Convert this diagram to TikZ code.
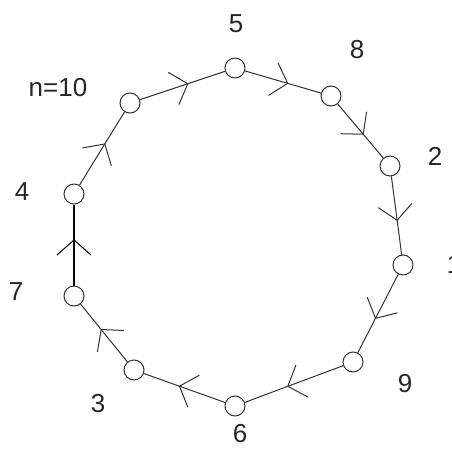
\documentclass[tikz,border=0pt]{standalone}
\usepackage{fontspec}
\setmainfont{Liberation Sans}
\usetikzlibrary{arrows.meta,decorations.markings}
\begin{document}
\begin{tikzpicture}[x=1pt,y=-1pt,
  vtx/.style={circle,draw=black!80,line width=1pt,minimum size=20pt,inner sep=0pt},
  lbl/.style={font=\fontsize{26}{30}\selectfont,text=black!85,inner sep=0pt},
  edge/.style={draw=black!80,line width=1pt,postaction={decorate},
    decoration={markings,mark=at position 0.57 with {\arrow[line width=1pt]{Straight Barb[length=15pt,width=34pt]}}}},
  thick edge/.style={edge,line width=1.8pt,draw=black}]
\useasboundingbox (0,0) rectangle (452,449);
% vertices
\node[vtx] (v5)  at (235,68)  {};
\node[vtx] (v8)  at (331,96)  {};
\node[vtx] (v2)  at (390,166) {};
\node[vtx] (v1)  at (403,265) {};
\node[vtx] (v9)  at (353,362) {};
\node[vtx] (v6)  at (235,406) {};
\node[vtx] (v3)  at (134,370) {};
\node[vtx] (v7)  at (74,296)  {};
\node[vtx] (v4)  at (74,194)  {};
\node[vtx] (v10) at (130,103) {};
% labels
\node[lbl] (l5)  at (236,24)  {5};
\node[lbl] (l8)  at (357,50)  {8};
\node[lbl] (l10) at (58,88)   {n=10};
\node[lbl] (l2)  at (435,156) {2};
\node[lbl] (l4)  at (22,192)  {4};
\node[lbl] (l7)  at (16,292)  {7};
\node[lbl] (l1)  at (454,265) {1};
\node[lbl] (l9)  at (405,384) {9};
\node[lbl] (l3)  at (98,404)  {3};
\node[lbl] (l6)  at (240,434) {6};
% edges
\path[edge] (v10) -- (v5);
\path[edge] (v5) -- (v8);
\path[edge] (v8) -- (v2);
\path[edge] (v2) -- (v1);
\path[edge] (v1) -- (v9);
\path[edge] (v9) -- (v6);
\path[edge] (v6) -- (v3);
\path[edge] (v3) -- (v7);
\path[thick edge] (v7) -- (v4);
\path[edge] (v4) -- (v10);
\end{tikzpicture}
\end{document}
